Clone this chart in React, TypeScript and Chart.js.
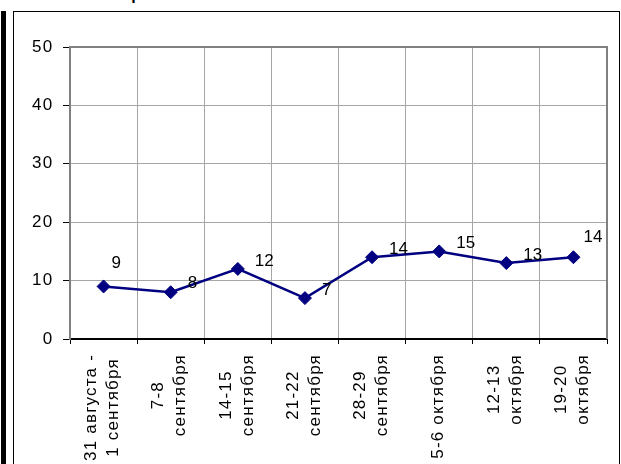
import React, { useEffect, useRef } from 'react';
import { Chart, registerables } from 'chart.js';

Chart.register(...registerables);

const categories: (string | string[])[] = [
  ['31 августа -', '1 сентября'],
  ['7-8', 'сентября'],
  ['14-15', 'сентября'],
  ['21-22', 'сентября'],
  ['28-29', 'сентября'],
  '5-6 октября',
  ['12-13', 'октября'],
  ['19-20', 'октября'],
];
const values = [9, 8, 12, 7, 14, 15, 13, 14];
const yTicks = [0, 10, 20, 30, 40, 50];
// small manual nudges of the value labels (dx, dy), like the moved labels of the original
const labelNudges = [[-9, -15], [0, -1], [0, 0], [0, 0], [0, 0], [0, 0], [0, 0], [-7, -12]];

const FONT = "Arial, 'Liberation Sans', sans-serif";

export default function App() {
  const ref = useRef<HTMLCanvasElement>(null);
  useEffect(() => {
    document.body.style.margin = '0';
    const canvas = ref.current;
    if (!canvas) return;

    const plotBorder = {
      id: 'plotBorder',
      beforeDatasetsDraw(chart: any) {
        const { ctx, chartArea: a } = chart;
        ctx.save();
        ctx.strokeStyle = '#808080';
        ctx.lineWidth = 2;
        ctx.beginPath();
        ctx.moveTo(a.left, a.top);
        ctx.lineTo(a.right, a.top);
        ctx.lineTo(a.right, a.bottom);
        ctx.stroke();
        ctx.restore();
      },
    };

    const axisText = {
      id: 'axisText',
      afterDraw(chart: any) {
        const { ctx, chartArea: a, scales } = chart;
        const xs = scales.x;
        const ys = scales.y;
        ctx.save();
        ctx.fillStyle = '#000';
        ctx.font = `17px ${FONT}`;
        (ctx as any).letterSpacing = '1.5px';
        ctx.textAlign = 'right';
        ctx.textBaseline = 'middle';
        yTicks.forEach((v) => {
          ctx.fillText(String(v), a.left - 16.2, ys.getPixelForValue(v));
        });
        (ctx as any).letterSpacing = '1.2px';
        categories.forEach((c, i) => {
          const lines = Array.isArray(c) ? c : [c];
          const cx = xs.getPixelForValue(i);
          const W = Math.max(...lines.map((l) => ctx.measureText(l).width));
          const cy = a.bottom + 15 + W / 2;
          lines.forEach((l, j) => {
            ctx.save();
            ctx.translate(cx + (j - (lines.length - 1) / 2) * 22 - 1, cy);
            ctx.rotate(-Math.PI / 2);
            ctx.textAlign = 'center';
            ctx.fillText(l, 0, 0);
            ctx.restore();
          });
        });
        ctx.restore();
      },
    };

    const valueLabels = {
      id: 'valueLabels',
      afterDatasetsDraw(chart: any) {
        const { ctx } = chart;
        const meta = chart.getDatasetMeta(0);
        ctx.save();
        ctx.font = `17px ${FONT}`;
        ctx.fillStyle = '#000';
        ctx.textAlign = 'left';
        ctx.textBaseline = 'middle';
        meta.data.forEach((pt: any, i: number) => {
          const n = labelNudges[i] || [0, 0];
          ctx.fillText(String(values[i]), pt.x + 17 + n[0], pt.y - 8 + n[1]);
        });
        ctx.restore();
      },
    };

    const chart = new Chart(canvas, {
      type: 'line',
      data: {
        labels: categories,
        datasets: [
          {
            data: values,
            borderColor: '#000080',
            borderWidth: 2.5,
            backgroundColor: '#000080',
            pointStyle: 'rectRot',
            pointRadius: 6.5,
            pointBackgroundColor: '#000080',
            pointBorderColor: '#000080',
            pointBorderWidth: 1,
            tension: 0,
          },
        ],
      },
      options: {
        animation: false,
        responsive: false,
        events: [],
        layout: { padding: { top: 35, right: 12, left: 0, bottom: 0 } },
        plugins: { legend: { display: false }, tooltip: { enabled: false } },
        scales: {
          x: {
            type: 'category',
            offset: true,
            grid: {
              offset: true,
              color: '#a6a6a6',
              tickColor: '#000',
              tickLength: 5,
              lineWidth: 1,
            },
            border: { color: '#000', width: 2 },
            ticks: { display: false, autoSkip: false },
            afterFit: (s: any) => {
              s.height = 125;
            },
          },
          y: {
            min: 0,
            max: 50,
            grid: { color: '#a6a6a6', tickColor: '#000', tickLength: 7, lineWidth: 1 },
            border: { color: '#808080', width: 2 },
            ticks: { display: false, stepSize: 10 },
            afterBuildTicks: (s: any) => {
              s.ticks = yTicks.map((v) => ({ value: v }));
            },
            afterFit: (s: any) => {
              s.width = 56;
            },
          },
        },
      },
      plugins: [plotBorder, valueLabels, axisText],
    });
    return () => chart.destroy();
  }, []);

  return (
    <div style={{ position: 'relative', width: 621, height: 464, overflow: 'hidden', background: '#fff' }}>
      <div
        style={{
          position: 'absolute',
          left: 62,
          top: -15,
          font: `bold 16px ${FONT}`,
          lineHeight: '20px',
          whiteSpace: 'nowrap',
        }}
      >
        Итоги опроса
      </div>
      <div style={{ position: 'absolute', left: 1, top: 11, width: 5, height: 453, background: '#000' }} />
      <div
        style={{
          position: 'absolute',
          left: 13,
          top: 11,
          width: 605,
          height: 460,
          borderTop: '1px solid #000',
          borderLeft: '1px solid #000',
          borderRight: '1px solid #000',
        }}
      />
      <canvas
        ref={ref}
        width={605}
        height={452}
        style={{ position: 'absolute', left: 14, top: 12, width: 605, height: 452 }}
      />
    </div>
  );
}
